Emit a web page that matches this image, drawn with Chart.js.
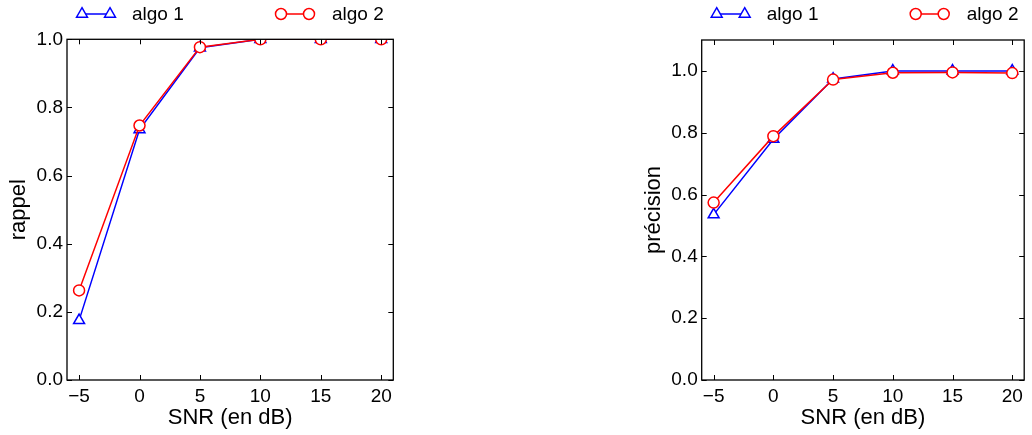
<!DOCTYPE html>
<html><head><meta charset="utf-8">
<script src="https://cdn.jsdelivr.net/npm/chart.js@4.4.0/dist/chart.umd.min.js"></script>
<style>
html,body{margin:0;padding:0;background:#fff;}
body{width:1032px;height:435px;position:relative;overflow:hidden;}
.box{position:absolute;top:0;height:435px;}
</style></head>
<body>
<div class="box" style="left:0;width:420px"><canvas id="c1"></canvas></div>
<div class="box" style="left:610px;width:422px"><canvas id="c2"></canvas></div>
<script>
// ---- data ----
const snr = [-5, 0, 5, 10, 15, 20];
const rappelAlgo1 = [0.175, 0.735, 0.975, 1.0, 1.0, 1.0];
const rappelAlgo2 = [0.263, 0.747, 0.977, 1.0, 1.0, 1.0];
const precisionAlgo1 = [0.535, 0.779, 0.974, 1.0, 1.0, 1.0];
const precisionAlgo2 = [0.574, 0.789, 0.972, 0.994, 0.995, 0.993];
const xTicks = [-5, 0, 5, 10, 15, 20];
const yTicks = [0.0, 0.2, 0.4, 0.6, 0.8, 1.0];
const seriesNames = ['algo 1', 'algo 2'];

const FONT = "'Liberation Sans', Arial, Helvetica, sans-serif";
const BLUE = '#0000ff', RED = '#ff0000';

const framePlugin = {
  id: 'frameTicks',
  afterDatasetsDraw(chart) {
    const {ctx, chartArea: a, scales: {x, y}} = chart;
    ctx.save();
    ctx.strokeStyle = '#000';
    ctx.lineWidth = 1.3;
    ctx.strokeRect(a.left, a.top, a.right - a.left, a.bottom - a.top);
    ctx.lineWidth = 1;
    const L = 5;
    ctx.beginPath();
    x.ticks.forEach(t => {
      const px = Math.round(x.getPixelForValue(t.value)) + 0.5;
      ctx.moveTo(px, a.bottom); ctx.lineTo(px, a.bottom - L);
      ctx.moveTo(px, a.top); ctx.lineTo(px, a.top + L);
    });
    y.ticks.forEach(t => {
      const py = Math.round(y.getPixelForValue(t.value)) + 0.5;
      ctx.moveTo(a.left, py); ctx.lineTo(a.left + L, py);
      ctx.moveTo(a.right, py); ctx.lineTo(a.right - L, py);
    });
    ctx.stroke();
    ctx.restore();
  }
};

function drawTri(ctx, cx, cy, r) {
  ctx.beginPath();
  for (let k = 0; k < 3; k++) {
    const ang = k * 2 * Math.PI / 3;
    const px = cx + Math.sin(ang) * r, py = cy - Math.cos(ang) * r;
    if (k === 0) ctx.moveTo(px, py); else ctx.lineTo(px, py);
  }
  ctx.closePath();
  ctx.fill(); ctx.stroke();
}
function drawCirc(ctx, cx, cy, r) {
  ctx.beginPath(); ctx.arc(cx, cy, r, 0, Math.PI * 2); ctx.fill(); ctx.stroke();
}

const legendPlugin = {
  id: 'mplLegend',
  afterDraw(chart) {
    const {ctx, chartArea: a} = chart;
    const ly = 14;
    ctx.save();
    ctx.lineWidth = 1.5;
    ctx.fillStyle = '#fff';
    // algo 1
    ctx.strokeStyle = BLUE;
    ctx.beginPath(); ctx.moveTo(a.left + 15, ly); ctx.lineTo(a.left + 43, ly); ctx.stroke();
    drawTri(ctx, a.left + 15, ly, 6.3); drawTri(ctx, a.left + 43, ly, 6.3);
    // algo 2
    ctx.strokeStyle = RED;
    ctx.beginPath(); ctx.moveTo(a.left + 214, ly); ctx.lineTo(a.left + 242, ly); ctx.stroke();
    ctx.fillStyle = '#fff';
    drawCirc(ctx, a.left + 214, ly, 5.5); drawCirc(ctx, a.left + 242, ly, 5.5);
    ctx.fillStyle = '#000';
    ctx.font = '19px ' + FONT;
    ctx.textBaseline = 'middle';
    ctx.textAlign = 'left';
    ctx.fillText(seriesNames[0], a.left + 65, ly + 1);
    ctx.fillText(seriesNames[1], a.left + 265, ly + 1);
    ctx.restore();
  }
};

function makeChart(id, vals1, vals2, yMax, yTitle, yWidth, yTitlePad, padTop, padRight) {
  const ds = (name, vals, color, style, r, order) => ({
    label: name,
    data: snr.map((x, i) => ({x: x, y: vals[i]})),
    borderColor: color, borderWidth: 1.5,
    pointStyle: style, pointRadius: r, pointHoverRadius: r,
    pointBorderColor: color, pointBackgroundColor: '#fff', pointBorderWidth: 1.5,
    tension: 0, clip: 0, order: order
  });
  return new Chart(document.getElementById(id), {
    type: 'line',
    data: {
      datasets: [
        ds(seriesNames[0], vals1, BLUE, 'triangle', 6.3, 1),
        ds(seriesNames[1], vals2, RED, 'circle', 5.5, 0)
      ]
    },
    options: {
      responsive: true, maintainAspectRatio: false, animation: false,
      devicePixelRatio: 1,
      layout: {padding: {top: padTop, right: padRight, bottom: 0, left: 0}},
      plugins: {legend: {display: false}, tooltip: {enabled: false}},
      events: [],
      scales: {
        x: {
          type: 'linear', min: -6, max: 21,
          afterBuildTicks: s => { s.ticks = xTicks.map(v => ({value: v})); },
          afterFit: s => { s.height = 55; },
          grid: {display: false, drawTicks: false},
          border: {display: false},
          ticks: {
            color: '#000', font: {family: FONT, size: 19}, padding: 5,
            maxRotation: 0, autoSkip: false,
            callback: v => String(v).replace('-', '\u2212')
          },
          title: {display: true, text: 'SNR (en dB)', color: '#000',
                  font: {family: FONT, size: 22}, padding: {top: 0, bottom: 3.8}}
        },
        y: {
          type: 'linear', min: 0, max: yMax,
          afterBuildTicks: s => { s.ticks = yTicks.map(v => ({value: v})); },
          afterFit: s => { s.width = yWidth; },
          grid: {display: false, drawTicks: false},
          border: {display: false},
          ticks: {
            color: '#000', font: {family: FONT, size: 19}, padding: 4,
            callback: v => Number(v).toFixed(1)
          },
          title: {display: true, text: yTitle, color: '#000',
                  font: {family: FONT, size: 22}, padding: {top: yTitlePad, bottom: 0}}
        }
      }
    },
    plugins: [framePlugin, legendPlugin]
  });
}

makeChart('c1', rappelAlgo1, rappelAlgo2, 1.0, 'rappel', 67, 5.3, 39.3, 26.7);
makeChart('c2', precisionAlgo1, precisionAlgo2, 1.1, 'précision', 91.7, 30.8, 40, 4.5);
</script>
</body></html>
